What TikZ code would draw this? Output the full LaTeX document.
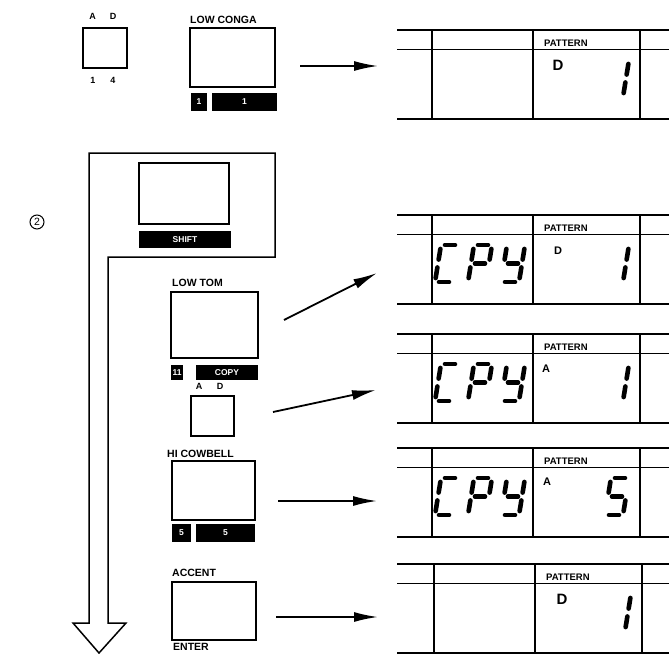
\documentclass[tikz,border=0pt]{standalone}
\usepackage{fontspec}
\setmainfont{Liberation Sans}
\usetikzlibrary{arrows.meta}

\newcommand\segdigit[3]{%
  \begin{scope}[shift={(#1,#2)}]
    \coordinate (BL) at (0,0);
    \coordinate (BR) at (18,0);
    \coordinate (ML) at (3,-18.5);
    \coordinate (MR) at (21,-18.5);
    \coordinate (TL) at (6,-37);
    \coordinate (TR) at (24,-37);
    \foreach \p/\q in {#3} \draw[segline] (\p) -- (\q);
  \end{scope}}

\begin{document}
\begin{tikzpicture}[x=1pt, y=-1pt,
    keybox/.style={draw, line width=1.5pt, inner sep=0pt},
    keybar/.style={fill=black, text=white, inner sep=0pt, font=\fontsize{8.5}{9}\selectfont\bfseries},
    keylbl/.style={anchor=west, inner sep=0pt, font=\fontsize{10.5}{11}\selectfont\bfseries},
    padlbl/.style={inner sep=0pt, font=\fontsize{9}{9}\selectfont\bfseries},
    panel/.style={line width=1.5pt},
    pattlbl/.style={anchor=west, inner sep=0pt, font=\fontsize{9.5}{10}\selectfont\bfseries},
    bankbig/.style={inner sep=0pt, font=\fontsize{15}{15}\selectfont\bfseries},
    banksmall/.style={inner sep=0pt, font=\fontsize{11}{11}\selectfont\bfseries},
    segline/.style={line width=4.6pt, line cap=round, shorten <=4pt, shorten >=4pt},
    push/.style={line width=1.8pt, -{Latex[length=24pt,width=10pt]}}]
    \useasboundingbox (0,0) rectangle (669,653);

    \node[padlbl] (pad1A) at (92.5,16) {A};
    \node[padlbl] (pad1D) at (113,16) {D};
    \node[keybox, minimum width=44pt, minimum height=40pt] (pad1) at (105,48) {};
    \node[padlbl] (pad1one) at (93,80) {1};
    \node[padlbl] (pad1four) at (113,80) {4};

    \node[keylbl] (congalbl) at (190,20) {LOW CONGA};
    \node[keybox, minimum width=85pt, minimum height=59pt] (conga) at (232.5,57.5) {};
    \node[keybar, minimum width=16pt, minimum height=18pt] (congano) at (199,102) {1};
    \node[keybar, minimum width=65pt, minimum height=18pt] (congaval) at (244.5,102) {1};

    \node[draw, circle, line width=1pt, minimum size=14pt, inner sep=0pt, font=\fontsize{10.5}{10.5}\selectfont] (stepno) at (37,222) {2};
    \draw[line width=1.5pt] (89,153) -- (275,153) -- (275,257) -- (108,257) -- (108,623) -- (126,623) -- (99,653) -- (73,623) -- (89,623) -- cycle;

    \node[keybox, minimum width=90pt, minimum height=61pt] (shift) at (184,193.5) {};
    \node[keybar, minimum width=92pt, minimum height=17pt] (shiftbar) at (185,239.5) {SHIFT};

    \node[keylbl] (tomlbl) at (172,283) {LOW TOM};
    \node[keybox, minimum width=87pt, minimum height=66pt] (tom) at (214.5,325) {};
    \node[keybar, minimum width=12pt, minimum height=15pt] (tomno) at (177,372.5) {11};
    \node[keybar, minimum width=62pt, minimum height=15pt] (tomval) at (227,372.5) {COPY};

    \node[padlbl] (pad2A) at (199,386) {A};
    \node[padlbl] (pad2D) at (220,386) {D};
    \node[keybox, minimum width=43pt, minimum height=40pt] (pad2) at (212.5,416) {};

    \node[keylbl] (cowlbl) at (167,453.5) {HI COWBELL};
    \node[keybox, minimum width=83pt, minimum height=59pt] (cow) at (213.5,490.5) {};
    \node[keybar, minimum width=19pt, minimum height=18pt] (cowno) at (181.5,533) {5};
    \node[keybar, minimum width=59pt, minimum height=18pt] (cowval) at (225.5,533) {5};

    \node[keylbl] (acclbl) at (172,572.5) {ACCENT};
    \node[keybox, minimum width=84pt, minimum height=58pt] (acc) at (214,611) {};
    \node[keylbl, anchor=north west] (enterlbl) at (173,643.5) {ENTER};

    \coordinate (a1s) at (300,66);
    \coordinate (a1e) at (378,66);
    \coordinate (a2s) at (284,320);
    \coordinate (a2e) at (377,273);
    \coordinate (a3s) at (273,412);
    \coordinate (a3e) at (376,390);
    \coordinate (a4s) at (278,501);
    \coordinate (a4e) at (377,501);
    \coordinate (a5s) at (276,617);
    \coordinate (a5e) at (378,617);
    \foreach \n in {1,...,5} \draw[push] (a\n s) -- (a\n e);

    \foreach \t/\dx/\n in {30/0/1,215/0/2,334/0/3,448/0/4,564/2/5}{
        \draw[panel] (397,\t) -- (669,\t) (397,\t+19.5) -- (669,\t+19.5) (397,\t+89) -- (669,\t+89);
        \draw[panel] (432+\dx,\t) -- (432+\dx,\t+89) (533+\dx,\t) -- (533+\dx,\t+89) (640+\dx,\t) -- (640+\dx,\t+89);
        \node[pattlbl] (patt\n) at (544+\dx,\t+13) {PATTERN};
    }

    \node[bankbig] (bank1) at (558,65.5) {D};
    \node[banksmall] (bank2) at (558,250.5) {D};
    \node[banksmall] (bank3) at (546,369) {A};
    \node[banksmall] (bank4) at (547,482) {A};
    \node[bankbig] (bank5) at (562,599) {D};

    \foreach \b in {282,401,515}{
        \segdigit{435}{\b}{TL/TR,TL/ML,ML/BL,BL/BR}
        \segdigit{468}{\b}{TL/TR,TR/MR,TL/ML,ML/MR,ML/BL}
        \segdigit{501}{\b}{TL/ML,TR/MR,ML/MR,MR/BR,BL/BR}
    }
    \segdigit{605}{97}{TR/MR,MR/BR}
    \segdigit{605}{282}{TR/MR,MR/BR}
    \segdigit{605}{401}{TR/MR,MR/BR}
    \segdigit{605}{515}{TL/TR,TL/ML,ML/MR,MR/BR,BL/BR}
    \segdigit{607}{631}{TR/MR,MR/BR}
\end{tikzpicture}
\end{document}
